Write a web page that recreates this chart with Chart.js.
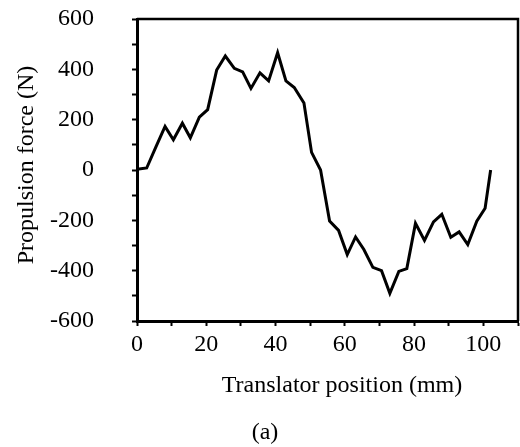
<!DOCTYPE html>
<html>
<head>
<meta charset="utf-8">
<script src="https://cdn.jsdelivr.net/npm/chart.js@4"></script>
<style>
  html, body { margin: 0; padding: 0; background: #ffffff; }
  canvas { display: block; }
</style>
</head>
<body>
<canvas id="c" width="520" height="447"></canvas>
<script>
// Translator position (mm)
const positions = [0, 2.8, 5.4, 8.1, 10.5, 13.1, 15.4, 18.0, 20.4, 23.0, 25.5, 28.1, 30.5, 32.9, 35.5, 38.0, 40.6, 43.0, 45.4, 48.2, 50.4, 53.0, 55.6, 58.2, 60.7, 63.1, 65.5, 68.1, 70.6, 73.0, 75.6, 77.9, 80.4, 83.0, 85.6, 88.0, 90.6, 93.0, 95.5, 98.1, 100.5, 102.1];
// Propulsion force (N)
const forces = [3, 8, 90, 173, 120, 186, 128, 210, 240, 397, 453, 404, 390, 324, 386, 354, 466, 354, 328, 266, 70, 0, -203, -240, -336, -266, -316, -387, -400, -490, -403, -392, -212, -280, -206, -176, -267, -246, -296, -203, -152, 0];
// Axis ranges and labels
const xRange = [0, 110];
const yRange = [-600, 600];
const xLabelStep = 20;
const yLabelStep = 200;
const xTitle = 'Translator position (mm)';
const yTitle = 'Propulsion force (N)';
const caption = '(a)';

const FONT = '"Liberation Serif", "Times New Roman", serif';

const points = positions.map((x, i) => ({ x: x, y: forces[i] }));

const framePlugin = {
  id: 'frame',
  afterDraw(chart) {
    const { ctx, chartArea: a } = chart;
    ctx.save();
    ctx.strokeStyle = '#000';
    ctx.lineWidth = 2.5;
    ctx.beginPath();
    ctx.moveTo(a.left, a.top);
    ctx.lineTo(a.right, a.top);
    ctx.lineTo(a.right, a.bottom);
    ctx.stroke();
    ctx.fillStyle = '#000';
    ctx.font = '24px ' + FONT;
    ctx.textAlign = 'center';
    ctx.textBaseline = 'middle';
    ctx.fillText(xTitle, 342, 386);
    ctx.fillText(caption, 265, 433);
    ctx.translate(27, 165);
    ctx.rotate(-Math.PI / 2);
    ctx.fillText(yTitle, 0, 0);
    ctx.restore();
  }
};

new Chart(document.getElementById('c'), {
  type: 'scatter',
  data: {
    datasets: [{
      data: points,
      showLine: true,
      borderColor: '#000',
      backgroundColor: '#000',
      borderWidth: 3,
      pointRadius: 0,
      tension: 0,
      borderJoinStyle: 'miter'
    }]
  },
  options: {
    responsive: false,
    animation: false,
    layout: { padding: { left: 0, right: 2, top: 19, bottom: 0 } },
    plugins: { legend: { display: false }, tooltip: { enabled: false } },
    scales: {
      x: {
        type: 'linear',
        min: xRange[0],
        max: xRange[1],
        afterFit(scale) { scale.height = 126; scale.paddingLeft = 0; scale.paddingRight = 0; },
        border: { display: true, color: '#000', width: 3 },
        grid: { display: true, drawOnChartArea: false, drawTicks: true, tickLength: 5, tickWidth: 2, tickColor: '#000' },
        ticks: {
          stepSize: 10,
          color: '#000',
          font: { family: FONT, size: 24 },
          padding: 4,
          maxRotation: 0,
          autoSkip: false,
          callback: (v) => (v % xLabelStep === 0 ? String(v) : '')
        }
      },
      y: {
        type: 'linear',
        min: yRange[0],
        max: yRange[1],
        afterFit(scale) { scale.width = 137; scale.paddingTop = 0; scale.paddingBottom = 0; },
        border: { display: true, color: '#000', width: 3 },
        grid: { display: true, drawOnChartArea: false, drawTicks: true, tickLength: 5, tickWidth: 2, tickColor: '#000' },
        ticks: {
          stepSize: 100,
          color: '#000',
          font: { family: FONT, size: 24 },
          padding: 38,
          autoSkip: false,
          callback: (v) => (v % yLabelStep === 0 ? String(v) : '')
        }
      }
    }
  },
  plugins: [framePlugin]
});
</script>
</body>
</html>
